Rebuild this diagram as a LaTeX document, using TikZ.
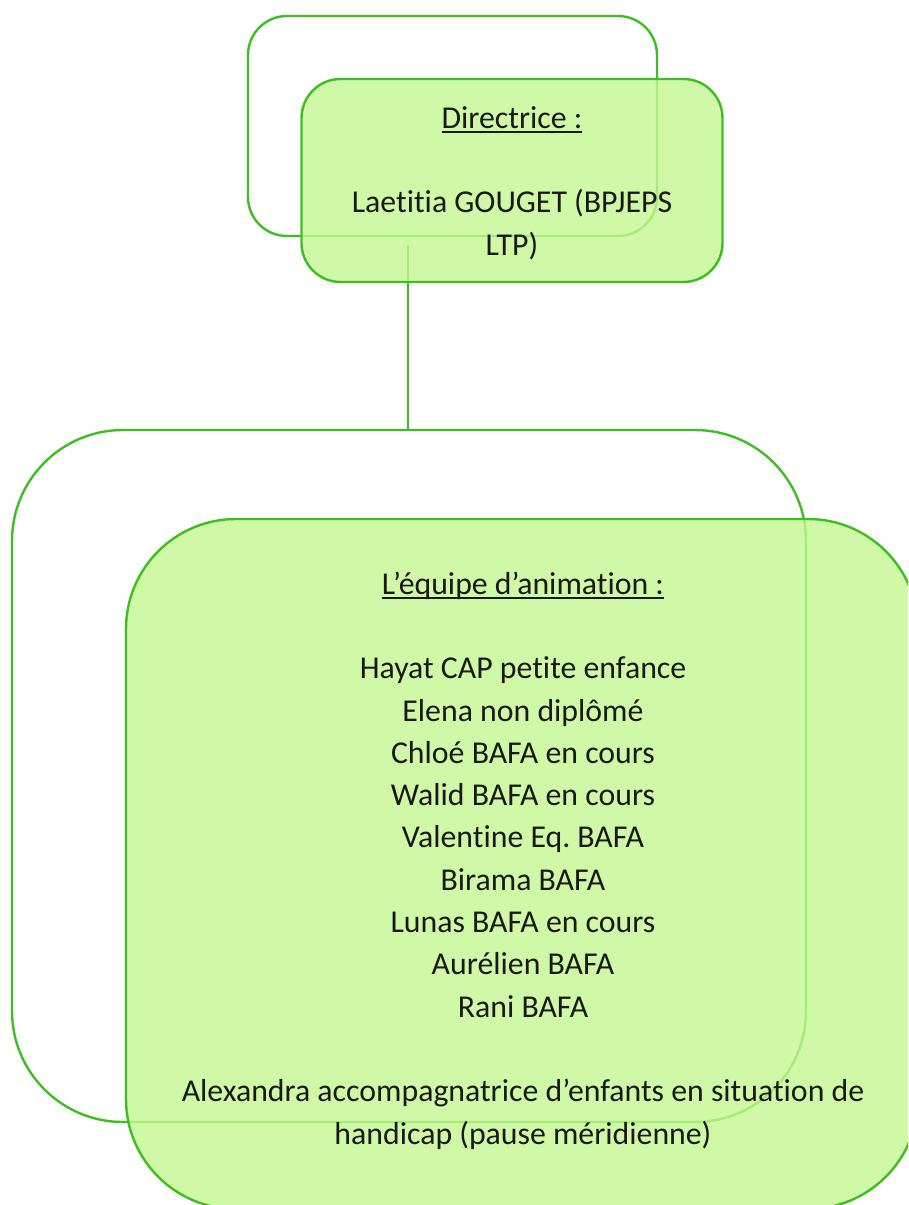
\documentclass[tikz,border=0pt]{standalone}
\usepackage{fontspec}
\setmainfont[Ligatures={NoCommon}]{Carlito}
\frenchspacing
\newcommand\myul[1]{\setbox0\hbox{#1}\copy0\llap{\rule[-5pt]{\wd0}{1.8pt}}}
\definecolor{boxline}{RGB}{63,190,34}
\definecolor{boxfill}{RGB}{195,247,144}
\definecolor{txt}{RGB}{25,25,25}
\begin{document}
\begin{tikzpicture}[x=1pt,y=-1pt,
  backbox/.style={draw=boxline, line width=2.4pt, fill=none, inner sep=0pt},
  frontbox/.style={draw=boxline, line width=2.4pt, fill=boxfill, fill opacity=0.8, draw opacity=1, inner sep=0pt},
  conn/.style={draw=boxline, line width=2pt},
  label/.style={align=center, inner sep=0pt, text=txt, font=\fontsize{31.8pt}{42.3pt}\selectfont}
]
\useasboundingbox (0,0) rectangle (908,1205);
\clip (0,0) rectangle (908,1205);
% back boxes and connector
\node[backbox, minimum width=409pt, minimum height=220pt, rounded corners=39pt] (dirback) at (452.5,126) {};
\coordinate (c1) at (408,245);
\node[backbox, minimum width=794pt, minimum height=692pt, rounded corners=111pt] (teamback) at (409,776) {};
\draw[conn] (c1) -- (c1 |- teamback.north);
% front boxes
\node[frontbox, minimum width=421pt, minimum height=203pt, rounded corners=39pt] (dir) at (512,180.5) {};
\node[frontbox, minimum width=792pt, minimum height=690pt, rounded corners=110pt] (team) at (522,864) {};
% texts (base anchor = baseline of the last line)
\node[label, anchor=base] (dirtext) at (512,255) {\myul{Directrice :}\\[42.3pt]Laetitia GOUGET (BPJEPS\\LTP)};
\node[label, anchor=base] (teamtext) at (523,1144) {\myul{L’équipe d’animation :}\\[42.3pt]Hayat CAP petite enfance\\Elena non diplômé\\Chloé BAFA en cours\\Walid BAFA en cours\\Valentine Eq. BAFA\\Birama BAFA\\Lunas BAFA en cours\\Aurélien BAFA\\Rani BAFA\\[42.3pt]Alexandra accompagnatrice d’enfants en situation de\\handicap (pause méridienne)};
\end{tikzpicture}
\end{document}
